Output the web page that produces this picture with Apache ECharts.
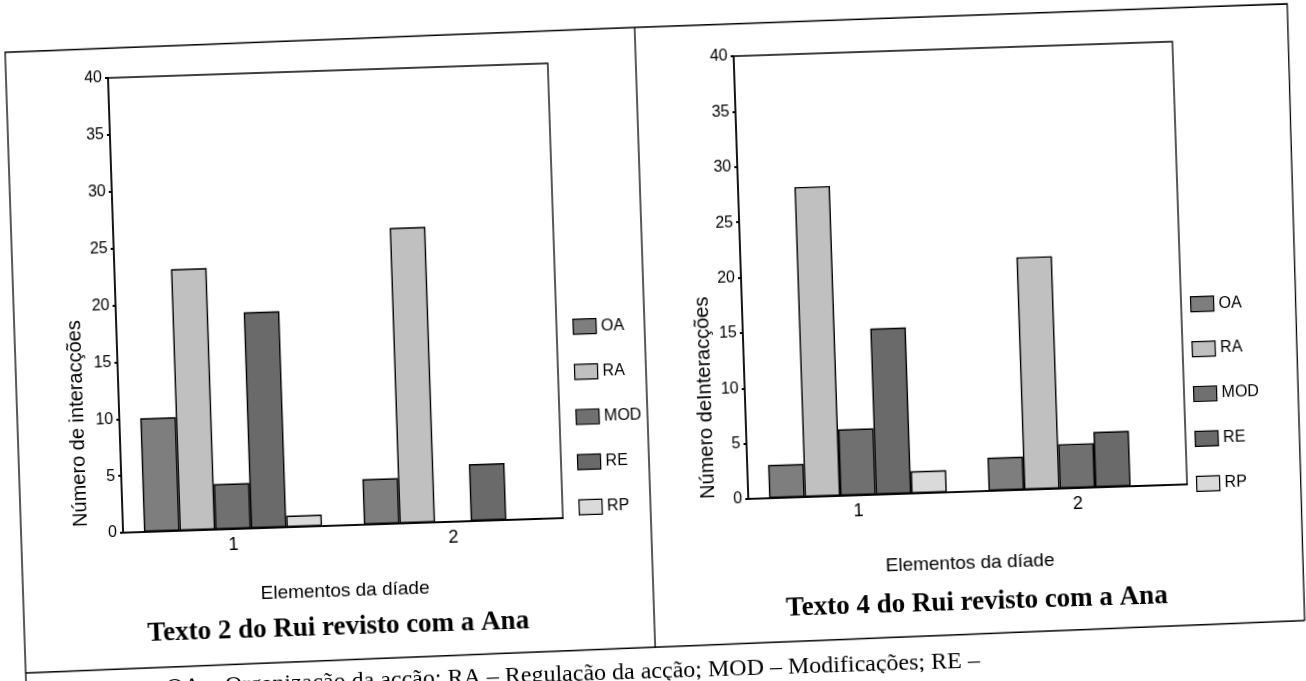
<!DOCTYPE html>
<html>
<head>
<meta charset="utf-8">
<script src="https://cdn.jsdelivr.net/npm/echarts/dist/echarts.min.js"></script>
<style>
html,body{margin:0;padding:0;background:#fff;overflow:hidden;}
#c{width:1306px;height:681px;transform:rotate(-1.9deg);transform-origin:653px 340px;}
</style>
</head>
<body>
<div id="c"></div>
<script>
// ---- data ----
const categories = ['1', '2'];
const seriesNames = ['OA', 'RA', 'MOD', 'RE', 'RP'];
const yTicks = [0, 5, 10, 15, 20, 25, 30, 35, 40];

// Texto 2 do Rui revisto com a Ana
const texto2OA = [10, 4];
const texto2RA = [23, 26];
const texto2MOD = [4, 0];
const texto2RE = [19, 5];
const texto2RP = [1, 0];

// Texto 4 do Rui revisto com a Ana
const texto4OA = [3, 3];
const texto4RA = [28, 21];
const texto4MOD = [6, 4];
const texto4RE = [15, 5];
const texto4RP = [2, 0];

const titles = ['Texto 2 do Rui revisto com a Ana', 'Texto 4 do Rui revisto com a Ana'];
const yNames = ['Número de interacções', 'Número deInteracções'];
const xName = 'Elementos da díade';
const caption = 'OA – Organização da acção; RA – Regulação da acção; MOD – Modificações; RE –';

// ---- styling ----
const colors = {OA: '#7e7e7e', RA: '#c0c0c0', MOD: '#707070', RE: '#6a6a6a', RP: '#dadada'};
const narrow = '"Liberation Sans Narrow", "Liberation Sans", Arial, sans-serif';
const sans = '"Liberation Sans", Arial, sans-serif';
const serif = '"Liberation Serif", "Times New Roman", serif';

const chart = echarts.init(document.getElementById('c'), null, {renderer: 'canvas'});

const grids = [
  {left: 117, top: 60, width: 440, height: 455},
  {left: 743, top: 59, width: 439, height: 443}
];

function xAxis(i, gap) {
  return {
    type: 'category', gridIndex: i, data: categories,
    name: xName, nameLocation: 'middle', nameGap: gap,
    nameTextStyle: {fontFamily: sans, fontSize: 19, color: '#000'},
    axisLine: {lineStyle: {color: '#000', width: 1.5}},
    axisTick: {alignWithLabel: true, length: 3, lineStyle: {color: '#000', width: 3}},
    axisLabel: {fontFamily: sans, fontSize: 18, color: '#000', margin: 7},
    splitLine: {show: false}
  };
}
function yAxis(i, gap, pad) {
  return {
    type: 'value', gridIndex: i, min: 0, max: 40, interval: 5,
    name: yNames[i], nameLocation: 'middle', nameGap: gap, nameRotate: 90,
    nameTextStyle: {fontFamily: sans, fontSize: 20, color: '#000', padding: [0, pad, 0, 0]},
    axisLine: {show: true, lineStyle: {color: '#000', width: 1.5}},
    axisTick: {show: true, length: 3, lineStyle: {color: '#000', width: 2}},
    axisLabel: {fontFamily: narrow, fontSize: 16, color: '#000', margin: 6,
      formatter: v => yTicks.includes(v) ? String(v) : ''},
    splitLine: {show: false}
  };
}

const data2 = {OA: texto2OA, RA: texto2RA, MOD: texto2MOD, RE: texto2RE, RP: texto2RP};
const data4 = {OA: texto4OA, RA: texto4RA, MOD: texto4MOD, RE: texto4RE, RP: texto4RP};

const series = [];
[data2, data4].forEach((d, gi) => {
  seriesNames.forEach(n => {
    series.push({
      type: 'bar', name: n, xAxisIndex: gi, yAxisIndex: gi, data: d[n],
      barGap: '0%', barCategoryGap: '19%',
      itemStyle: {color: colors[n], borderColor: '#000', borderWidth: 1.4},
      emphasis: {disabled: true}
    });
  });
});

function legend(left, top, gap) {
  return {
    orient: 'vertical', left: left, top: top, itemGap: gap,
    itemWidth: 23, itemHeight: 15, icon: 'rect', padding: 0,
    data: seriesNames,
    itemStyle: {borderColor: '#000', borderWidth: 1.2},
    textStyle: {fontFamily: narrow, fontSize: 16, lineHeight: 15, color: '#000'},
    selectedMode: false
  };
}

chart.setOption({
  backgroundColor: '#fff',
  animation: false,
  grid: grids.map(g => Object.assign({show: true, borderColor: '#000', borderWidth: 1.3, backgroundColor: 'transparent'}, g)),
  xAxis: [xAxis(0, 56), xAxis(1, 62)],
  yAxis: [yAxis(0, 32, 234), yAxis(1, 30, 238)],
  legend: [legend(573, 316, 29), legend(1191, 314, 28.75)],
  title: [
    {text: titles[0], left: 329, top: 604, textAlign: 'center', padding: 0,
      textStyle: {fontFamily: serif, fontSize: 27, fontWeight: 'bold', color: '#000'}},
    {text: titles[1], left: 968, top: 600, textAlign: 'center', padding: 0,
      textStyle: {fontFamily: serif, fontSize: 27, fontWeight: 'bold', color: '#000'}}
  ],
  graphic: [
    {type: 'polyline', shape: {points: [[15, 700], [15, 31], [645, 27], [1298, 25], [1295, 642]]},
      style: {stroke: '#000', lineWidth: 1.3, fill: null}, silent: true},
    {type: 'line', shape: {x1: 645, y1: 27, x2: 645, y2: 648}, style: {stroke: '#000', lineWidth: 1.3}, silent: true},
    {type: 'line', shape: {x1: 15, y1: 652, x2: 1295, y2: 642}, style: {stroke: '#000', lineWidth: 1.3}, silent: true},
    {type: 'text', left: 155, top: 660, silent: true,
      style: {text: caption, fontFamily: serif, fontSize: 24, fill: '#000'}}
  ],
  series: series
});
</script>
</body>
</html>
